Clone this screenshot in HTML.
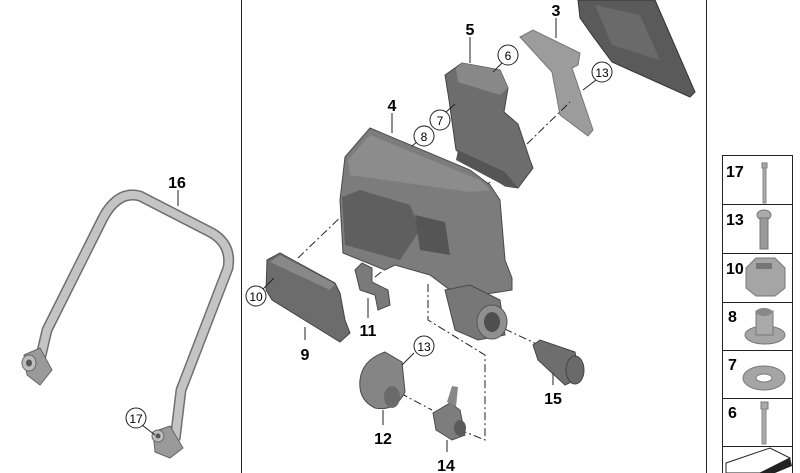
<!DOCTYPE html>
<html><head><meta charset="utf-8"><style>
body{margin:0;background:#fff;}
svg{display:block;font-family:"Liberation Sans",sans-serif;font-weight:bold;}
</style></head><body>
<svg width="800" height="473" viewBox="0 0 800 473" xmlns="http://www.w3.org/2000/svg">
<line x1="241.5" y1="0" x2="241.5" y2="473" stroke="#222" stroke-width="1"/>
<line x1="706.5" y1="0" x2="706.5" y2="473" stroke="#222" stroke-width="1"/>

<!-- 16 tube -->
<path d="M40,360 L47,330 L103,218 Q118,190 140,196 L212,233 Q232,245 228,268 L181,390 L175,440" fill="none" stroke="#6f6f6f" stroke-width="11" stroke-linejoin="round"/>
<path d="M40,360 L47,330 L103,218 Q118,190 140,196 L212,233 Q232,245 228,268 L181,390 L175,440" fill="none" stroke="#c4c4c4" stroke-width="8" stroke-linejoin="round"/>
<path d="M24,355 L40,348 L52,370 L40,385 L27,375Z" fill="#9a9a9a" stroke="#666"/>
<ellipse cx="29" cy="363" rx="7" ry="8" fill="#bdbdbd" stroke="#666"/>
<ellipse cx="29" cy="363" rx="3" ry="3.5" fill="#555"/>
<path d="M153,432 L170,426 L183,448 L170,458 L155,452Z" fill="#9a9a9a" stroke="#666"/>
<ellipse cx="158" cy="436" rx="6" ry="6" fill="#bdbdbd" stroke="#666"/>
<ellipse cx="158" cy="436" rx="2.5" ry="2.5" fill="#555"/>
<line x1="178" y1="190" x2="178" y2="206" stroke="#222"/>
<text x="177" y="188" font-size="16" text-anchor="middle">16</text>
<line x1="142" y1="425" x2="155" y2="435" stroke="#222"/>
<circle cx="136" cy="418" r="10" fill="#fff" stroke="#222"/>
<text x="136" y="423" font-size="12" text-anchor="middle" font-weight="normal">17</text>

<!-- top-right dark plate -->
<polygon points="578,0 655,0 695,92 690,97 612,62 592,35 580,18" fill="#5a5a5a" stroke="#333"/>
<polygon points="595,5 640,15 660,60 612,45" fill="#6a6a6a"/>
<line x1="647" y1="0" x2="652" y2="-2" stroke="#222"/>

<!-- part 3 -->
<polygon points="520,37 533,30 580,53 578,65 572,68 593,130 588,136 560,115 552,72" fill="#9c9c9c" stroke="#777"/>
<line x1="556" y1="18" x2="556" y2="38" stroke="#222"/>
<text x="556" y="16" font-size="16" text-anchor="middle">3</text>
<line x1="583" y1="90" x2="596" y2="80" stroke="#222"/>
<circle cx="602" cy="72" r="10" fill="#fff" stroke="#222"/>
<text x="602" y="77" font-size="12" text-anchor="middle" font-weight="normal">13</text>

<!-- part 5 -->
<polygon points="445,75 462,63 500,70 508,88 504,112 518,124 530,160 533,168 518,188 505,186 468,160 456,150 449,100" fill="#6d6d6d" stroke="#444"/>
<polygon points="456,68 462,63 500,70 508,88 500,95 458,82" fill="#888"/>
<polygon points="458,150 505,172 518,188 505,186 456,160" fill="#555"/>
<line x1="470" y1="37" x2="470" y2="63" stroke="#222"/>
<text x="470" y="35" font-size="16" text-anchor="middle">5</text>
<line x1="493" y1="72" x2="502" y2="63" stroke="#222"/>
<circle cx="508" cy="55" r="10" fill="#fff" stroke="#222"/>
<text x="508" y="60" font-size="12" text-anchor="middle" font-weight="normal">6</text>
<line x1="446" y1="112" x2="455" y2="104" stroke="#222"/>
<circle cx="440" cy="120" r="10" fill="#fff" stroke="#222"/>
<text x="440" y="125" font-size="12" text-anchor="middle" font-weight="normal">7</text>

<!-- dash-dot lines -->
<g stroke="#222" stroke-dasharray="8,3,2,3" fill="none">
<line x1="527" y1="144" x2="570" y2="102"/>
<line x1="475" y1="195" x2="490" y2="182"/>
<line x1="298" y1="258" x2="350" y2="208"/>
<line x1="375" y1="277" x2="425" y2="237"/>
<polyline points="428,284 428,320 485,355 485,440 465,432"/>
<line x1="490" y1="322" x2="545" y2="348"/>
<line x1="400" y1="393" x2="432" y2="410"/>
</g>

<!-- part 4 -->
<polygon points="345,157 370,128 470,170 490,185 500,200 505,260 512,278 512,290 480,295 450,290 430,275 395,265 385,270 343,253 340,200" fill="#7c7c7c" stroke="#4a4a4a"/>
<polygon points="348,160 370,135 480,180 490,190 470,192 350,175" fill="#8c8c8c"/>
<polygon points="342,197 360,190 410,205 420,230 400,260 345,245" fill="#5f5f5f"/>
<polygon points="415,215 445,222 450,255 420,250" fill="#555"/>
<polygon points="445,290 470,285 500,300 505,335 478,340 455,330" fill="#777" stroke="#4a4a4a"/>
<ellipse cx="492" cy="322" rx="15" ry="17" fill="#909090" stroke="#555"/>
<ellipse cx="492" cy="322" rx="8" ry="10" fill="#4f4f4f"/>
<line x1="392" y1="113" x2="392" y2="133" stroke="#222"/>
<text x="392" y="111" font-size="16" text-anchor="middle">4</text>
<line x1="412" y1="146" x2="418" y2="141" stroke="#222"/>
<circle cx="424" cy="136" r="10" fill="#fff" stroke="#222"/>
<text x="424" y="141" font-size="12" text-anchor="middle" font-weight="normal">8</text>

<!-- part 9 -->
<polygon points="267,260 280,253 335,283 340,293 345,320 350,333 340,342 272,300 266,290" fill="#6c6c6c" stroke="#444"/>
<polygon points="270,262 280,255 335,284 330,290" fill="#888"/>
<line x1="305" y1="327" x2="305" y2="340" stroke="#222"/>
<text x="305" y="360" font-size="16" text-anchor="middle">9</text>
<line x1="262" y1="290" x2="274" y2="278" stroke="#222"/>
<circle cx="256" cy="296" r="10" fill="#fff" stroke="#222"/>
<text x="256" y="301" font-size="12" text-anchor="middle" font-weight="normal">10</text>

<!-- part 11 -->
<polygon points="355,270 362,263 372,268 372,282 388,290 390,305 378,310 375,295 360,290" fill="#7a7a7a" stroke="#4a4a4a"/>
<line x1="368" y1="298" x2="368" y2="318" stroke="#222"/>
<text x="368" y="336" font-size="16" text-anchor="middle">11</text>

<!-- part 12 -->
<path d="M360,380 Q362,360 385,352 L402,362 L405,392 Q395,412 375,408 Q358,400 360,380Z" fill="#858585" stroke="#4a4a4a"/>
<ellipse cx="392" cy="397" rx="8" ry="11" fill="#6a6a6a"/>
<line x1="383" y1="410" x2="383" y2="425" stroke="#222"/>
<text x="383" y="444" font-size="16" text-anchor="middle">12</text>
<line x1="402" y1="365" x2="414" y2="353" stroke="#222"/>
<circle cx="424" cy="346" r="10" fill="#fff" stroke="#222"/>
<text x="424" y="351" font-size="12" text-anchor="middle" font-weight="normal">13</text>

<!-- part 14 -->
<polygon points="433,413 450,403 460,410 465,435 452,440 436,430" fill="#7d7d7d" stroke="#4a4a4a"/>
<polygon points="447,402 452,386 458,387 456,407" fill="#888"/>
<ellipse cx="460" cy="428" rx="6" ry="8" fill="#5a5a5a"/>
<line x1="447" y1="440" x2="447" y2="452" stroke="#222"/>
<text x="446" y="471" font-size="16" text-anchor="middle">14</text>

<!-- part 15 -->
<polygon points="533,345 540,340 575,352 580,378 565,385 538,360" fill="#6e6e6e" stroke="#444"/>
<ellipse cx="575" cy="370" rx="9" ry="14" fill="#6a6a6a" stroke="#444"/>
<line x1="553" y1="373" x2="553" y2="385" stroke="#222"/>
<text x="553" y="404" font-size="16" text-anchor="middle">15</text>

<!-- right panel -->
<g stroke="#222" fill="none">
<rect x="722.5" y="155.5" width="70" height="330"/>
<line x1="722" y1="204.5" x2="793" y2="204.5"/>
<line x1="722" y1="253.5" x2="793" y2="253.5"/>
<line x1="722" y1="302.5" x2="793" y2="302.5"/>
<line x1="722" y1="350.5" x2="793" y2="350.5"/>
<line x1="722" y1="398.5" x2="793" y2="398.5"/>
<line x1="722" y1="446.5" x2="793" y2="446.5"/>
</g>
<g font-size="16">
<text x="726" y="177">17</text>
<text x="726" y="225">13</text>
<text x="726" y="274">10</text>
<text x="728" y="322">8</text>
<text x="728" y="370">7</text>
<text x="728" y="418">6</text>
</g>
<!-- 17 bolt -->
<rect x="762" y="163" width="5" height="5" fill="#aaa" stroke="#777"/>
<rect x="763" y="168" width="3" height="35" fill="#aaa" stroke="#888"/>
<!-- 13 bolt -->
<ellipse cx="764" cy="215" rx="7" ry="5" fill="#aaa" stroke="#777"/>
<rect x="760" y="218" width="8" height="31" fill="#999" stroke="#777"/>
<!-- 10 nut -->
<polygon points="746,268 756,258 775,258 785,268 785,288 775,296 756,296 746,288" fill="#a5a5a5" stroke="#777"/>
<rect x="756" y="263" width="16" height="6" fill="#777"/>
<!-- 8 -->
<ellipse cx="765" cy="335" rx="20" ry="9" fill="#a5a5a5" stroke="#777"/>
<rect x="756" y="311" width="17" height="24" fill="#aaa" stroke="#777"/>
<ellipse cx="764" cy="312" rx="8" ry="4" fill="#888"/>
<!-- 7 washer -->
<ellipse cx="764" cy="378" rx="21" ry="12" fill="#a5a5a5" stroke="#777"/>
<ellipse cx="764" cy="378" rx="8" ry="4" fill="#fff" stroke="#777"/>
<!-- 6 bolt -->
<rect x="761" y="402" width="7" height="7" fill="#aaa" stroke="#777"/>
<rect x="762" y="409" width="4" height="35" fill="#aaa" stroke="#888"/>
<!-- bottom icon -->
<polygon points="726,463 770,448 790,458 760,473 726,473" fill="#fff" stroke="#222"/>
<polygon points="760,473 790,458 792,466 775,473" fill="#222"/>
</svg>
</body></html>
